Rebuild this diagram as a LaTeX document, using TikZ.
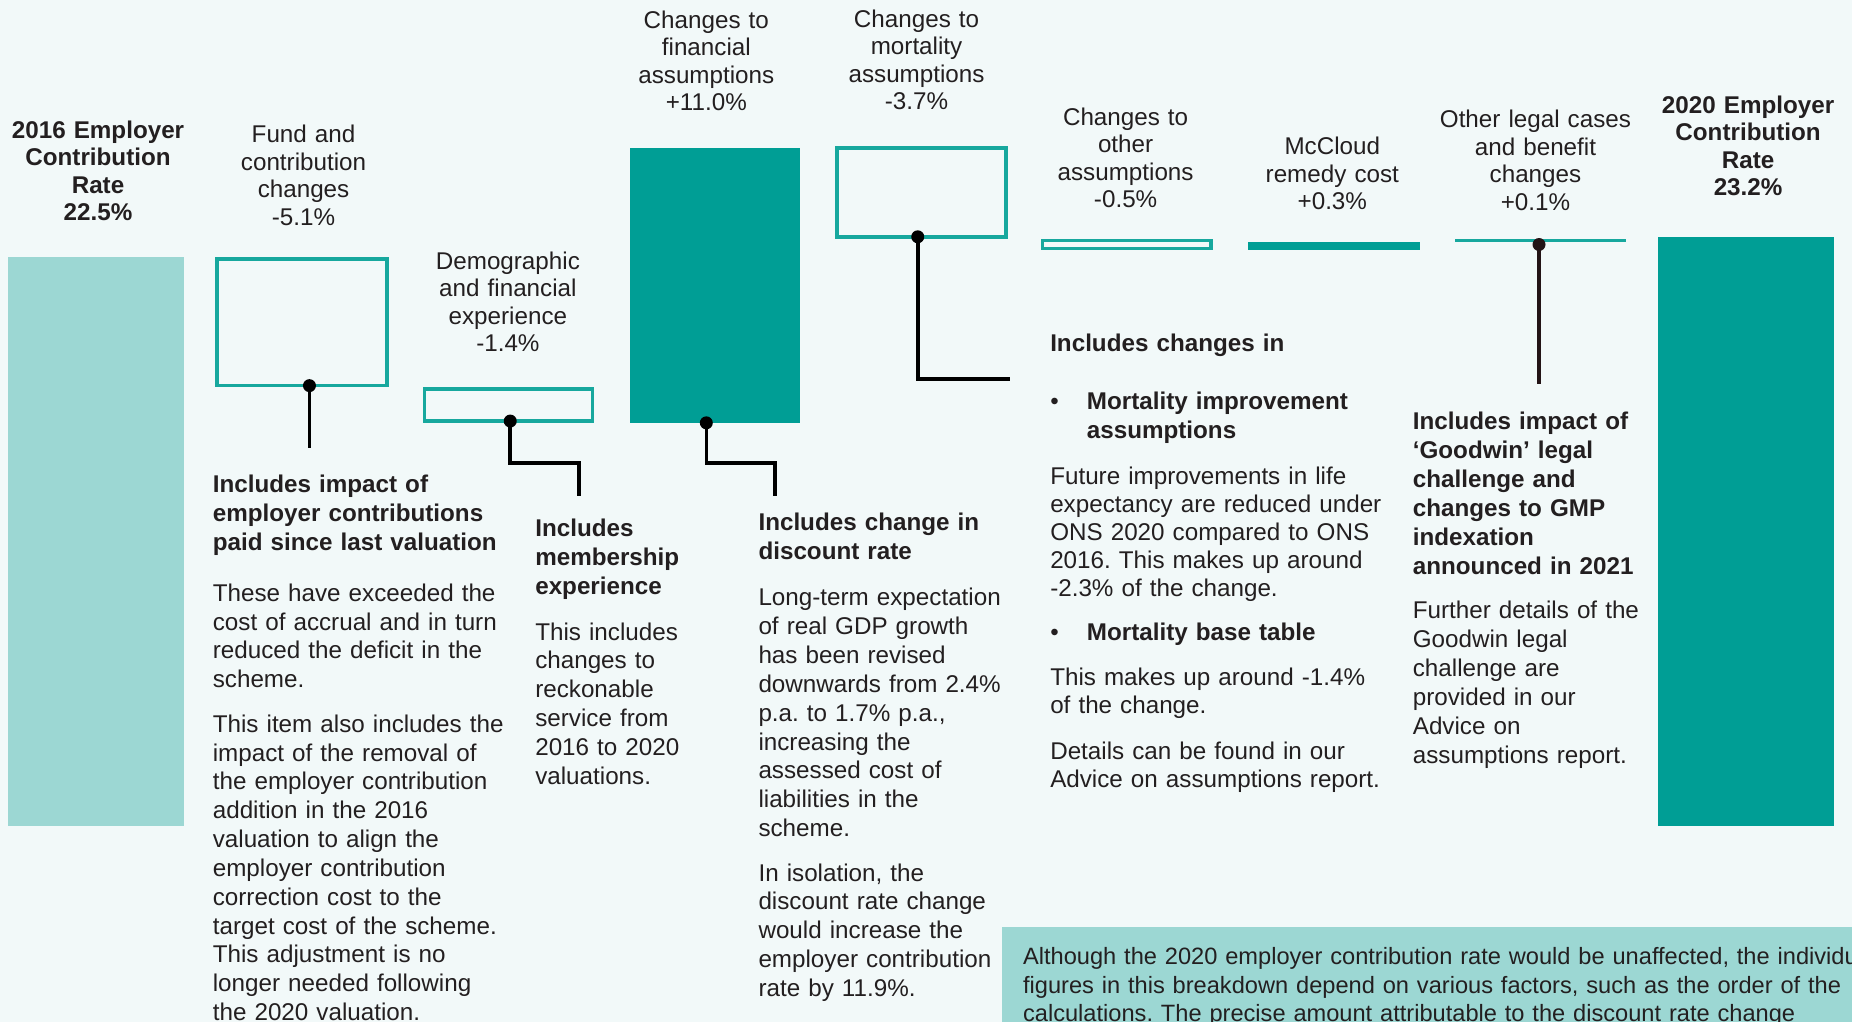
\documentclass[tikz,border=0pt]{standalone}
\usepackage{fontspec}
\setmainfont{Liberation Sans}
\usetikzlibrary{calc}
\definecolor{bgc}{HTML}{F2F9F9}
\definecolor{lteal}{HTML}{9CD7D3}
\definecolor{dteal}{HTML}{009E95}
\definecolor{oteal}{HTML}{17A89E}
\definecolor{txt}{HTML}{231F20}
\definecolor{pinc}{HTML}{231416}
\frenchspacing
\begin{document}
\begin{tikzpicture}[x=1pt,y=-1pt,
  lbl/.style={anchor=base, align=center, text width=230pt, inner sep=0pt, font=\fontsize{20.5}{23.3}\selectfont, text=txt},
  blbl/.style={lbl, font=\fontsize{20.5}{23.3}\selectfont\bfseries},
  body/.style={anchor=base west, align=left, text width=300pt, inner sep=0pt, font=\fontsize{20.5}{24.4}\selectfont, text=txt},
  bhead/.style={body, font=\fontsize{20.5}{24.5}\selectfont\bfseries},
  barbox/.style={rectangle, inner sep=0pt, outer sep=0pt},
  outbar/.style={barbox, draw=oteal, line width=3pt},
  conn/.style={draw=black, line width=3pt},
  pin/.style={circle, fill=black, minimum size=11pt, inner sep=0pt},
]
\useasboundingbox (0,0) rectangle (1568,865);
\clip (0,0) rectangle (1568,865);
\fill[bgc] (0,0) rectangle (1568,865);

% bars
\node[barbox, fill=lteal, minimum width=149, minimum height=481] (b2016) at (81.5,458.5) {};
\node[outbar, minimum width=144, minimum height=107] (fund) at (255.5,273) {};
\node[outbar, minimum width=142, minimum height=27] (demo) at (430.5,343) {};
\node[barbox, fill=dteal, minimum width=144, minimum height=233] (fin) at (605,241.5) {};
\node[outbar, minimum width=143, minimum height=75] (mort) at (780,163) {};
\node[outbar, minimum width=143, minimum height=7] (other) at (954,207) {};
\node[barbox, fill=dteal, minimum width=145, minimum height=7] (mcc) at (1129.5,208.5) {};
\node[barbox, fill=oteal, minimum width=145, minimum height=2.5] (legal) at (1304.5,204) {};
\node[barbox, fill=dteal, minimum width=149, minimum height=498] (b2020) at (1478.5,450) {};

% top labels
\node[blbl] (l2016) at (83,117) {2016 Employer\\Contribution\\Rate\\22.5\%};
\node[lbl] (lfund) at (257,121) {Fund and\\contribution\\changes\\-5.1\%};
\node[lbl] (ldemo) at (430,228) {Demographic\\and financial\\experience\\-1.4\%};
\node[lbl] (lfin) at (598,24) {Changes to\\financial\\assumptions\\+11.0\%};
\node[lbl] (lmort) at (776,23) {Changes to\\mortality\\assumptions\\-3.7\%};
\node[lbl] (lother) at (953,106) {Changes to\\other\\assumptions\\-0.5\%};
\node[lbl] (lmcc) at (1128,131) {McCloud\\remedy cost\\+0.3\%};
\node[lbl] (llegal) at (1300,108) {Other legal cases\\and benefit\\changes\\+0.1\%};
\node[blbl] (l2020) at (1480,96) {2020 Employer\\Contribution\\Rate\\23.2\%};

% connectors
\draw[conn] ([xshift=6.5pt]fund.south) coordinate (fundpin) -- ++(0,53) coordinate (fundend);
\node[pin] (pin1) at (fundpin) {};
\draw[conn] ([xshift=1.5pt]demo.south) coordinate (demopin) -- ++(0,35.5) -- ++(58,0) -- ++(0,28) coordinate (demoend);
\node[pin] (pin2) at (demopin) {};
\draw[conn] ([xshift=-7pt]fin.south) coordinate (finpin) -- ++(0,34) -- ++(58,0) -- ++(0,28) coordinate (finend);
\node[pin] (pin3) at (finpin) {};
\draw[conn] ([xshift=-3pt]mort.south) coordinate (mortpin) -- ++(0,120.5) -- ++(78,0) coordinate (mortend);
\node[pin] (pin4) at (mortpin) {};
\draw[conn, draw=pinc] ([xshift=-1.5pt]legal.center) ++(0,3) coordinate (legalpin) -- ++(0,118) coordinate (legalend);
\node[pin, fill=pinc] (pin5) at (legalpin) {};

% block A
\node[bhead] (a1) at (180,417) {Includes impact of\\employer contributions\\paid since last valuation};
\node[body] (a2) at (180,509) {These have exceeded the\\cost of accrual and in turn\\reduced the deficit in the\\scheme.};
\node[body] (a3) at (180,620) {This item also includes the\\impact of the removal of\\the employer contribution\\addition in the 2016\\valuation to align the\\employer contribution\\correction cost to the\\target cost of the scheme.\\This adjustment is no\\longer needed following\\the 2020 valuation.};

% block B
\node[bhead] (b1) at (453,454) {Includes\\membership\\experience};
\node[body] (b2) at (453,542) {This includes\\changes to\\reckonable\\service from\\2016 to 2020\\valuations.};

% block C
\node[bhead] (c1) at (642,449) {Includes change in\\discount rate};
\node[body] (c2) at (642,513) {Long-term expectation\\of real GDP growth\\has been revised\\downwards from 2.4\%\\p.a. to 1.7\% p.a.,\\increasing the\\assessed cost of\\liabilities in the\\scheme.};
\node[body] (c3) at (642,746) {In isolation, the\\discount rate change\\would increase the\\employer contribution\\rate by 11.9\%.};

% block D
\node[bhead] (d1) at (889,298) {Includes changes in};
\node[body] (dbul1) at (889,347) {•};
\node[bhead] (d2) at (920,347) {Mortality improvement\\assumptions};
\node[body, font=\fontsize{20.5}{23.8}\selectfont] (d3) at (889,410) {Future improvements in life\\expectancy are reduced under\\ONS 2020 compared to ONS\\2016. This makes up around\\-2.3\% of the change.};
\node[body] (dbul2) at (889,542) {•};
\node[bhead] (d4) at (920,542) {Mortality base table};
\node[body, font=\fontsize{20.5}{24}\selectfont] (d5) at (889,580) {This makes up around -1.4\%\\of the change.};
\node[body, font=\fontsize{20.5}{24}\selectfont] (d6) at (889,643) {Details can be found in our\\Advice on assumptions report.};

% block E
\node[bhead, font=\fontsize{20.5}{24.4}\selectfont\bfseries] (e1) at (1196,364) {Includes impact of\\‘Goodwin’ legal\\challenge and\\changes to GMP\\indexation\\announced in 2021};
\node[body] (e2) at (1196,524) {Further details of the\\Goodwin legal\\challenge are\\provided in our\\Advice on\\assumptions report.};

% note box
\node[barbox, fill=lteal, anchor=north west, minimum width=760, minimum height=120] (note) at (848,785) {};
\node[body, text width=760pt, font=\fontsize{20}{24}\selectfont] (notetext) at (866,817) {Although the 2020 employer contribution rate would be unaffected, the individual\\figures in this breakdown depend on various factors, such as the order of the\\calculations. The precise amount attributable to the discount rate change};
\end{tikzpicture}
\end{document}
